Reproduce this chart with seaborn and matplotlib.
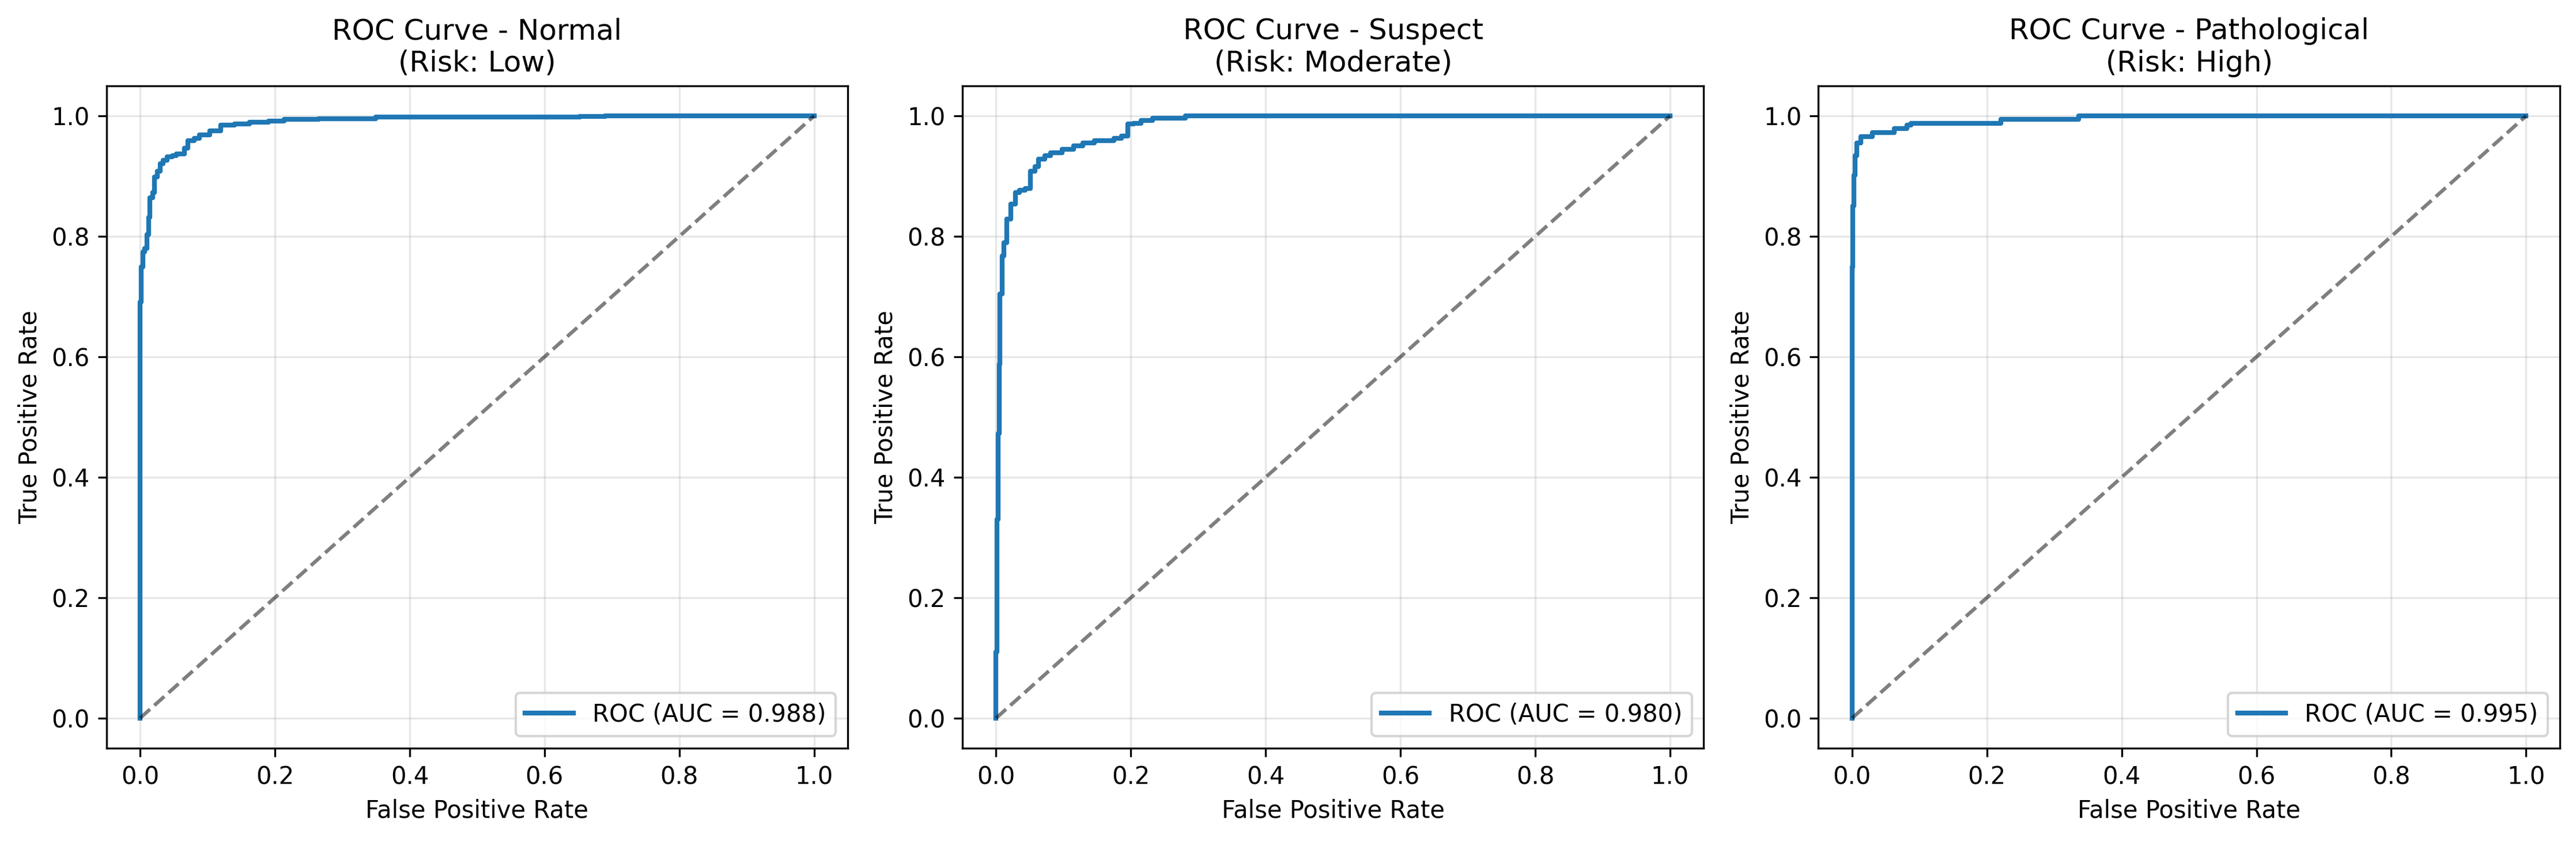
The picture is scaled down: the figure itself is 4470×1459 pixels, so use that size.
import numpy as np
import seaborn as sns
from matplotlib import pyplot as plt

# class names, risk levels and AUC values shown in the titles / legends
classes = ["Normal", "Suspect", "Pathological"]
risks = ["Low", "Moderate", "High"]
aucs = [0.988, 0.980, 0.995]

# ROC curve corners (fpr, tpr), drawn as steps
fpr_normal = [0, 0, 0.0014, 0.0043, 0.007, 0.010, 0.0128, 0.0142, 0.0185, 0.0214,
              0.0256, 0.030, 0.034, 0.040, 0.048, 0.054, 0.066, 0.071, 0.080, 0.088,
              0.103, 0.120, 0.140, 0.162, 0.191, 0.214, 0.265, 0.350, 0.652, 0.690, 1.0]
tpr_normal = [0, 0.691, 0.749, 0.774, 0.780, 0.803, 0.832, 0.864, 0.873, 0.899,
              0.908, 0.921, 0.926, 0.932, 0.934, 0.937, 0.947, 0.959, 0.963, 0.969,
              0.975, 0.985, 0.987, 0.990, 0.992, 0.9946, 0.9955, 0.998, 0.999, 1.0, 1.0]

fpr_suspect = [0, 0, 0.001, 0.003, 0.005, 0.006, 0.009, 0.012, 0.016, 0.022,
               0.029, 0.035, 0.043, 0.051, 0.058, 0.063, 0.072, 0.081, 0.098, 0.115,
               0.129, 0.146, 0.175, 0.186, 0.195, 0.204, 0.215, 0.232, 0.281, 1.0]
tpr_suspect = [0, 0.11, 0.33, 0.473, 0.588, 0.704, 0.768, 0.790, 0.829, 0.854,
               0.873, 0.877, 0.880, 0.908, 0.916, 0.928, 0.934, 0.939, 0.945, 0.950,
               0.955, 0.9595, 0.963, 0.967, 0.987, 0.988, 0.993, 0.996, 1.0, 1.0]

fpr_patho = [0, 0, 0.0014, 0.003, 0.0043, 0.007, 0.0128, 0.030, 0.0627, 0.081,
             0.087, 0.221, 0.336, 1.0]
tpr_patho = [0, 0.749, 0.851, 0.902, 0.934, 0.955, 0.966, 0.972, 0.979, 0.985,
             0.988, 0.9946, 1.0, 1.0]

fprs = [fpr_normal, fpr_suspect, fpr_patho]
tprs = [tpr_normal, tpr_suspect, tpr_patho]
diag = [0, 1]

W, H = 4470, 1459
fig, axes = plt.subplots(1, 3, figsize=(W / 300, H / 300), dpi=300)
plt.subplots_adjust(left=0.0413, right=0.9937, bottom=0.1103, top=0.8979, wspace=0.1546)

for ax, name, risk, auc, fpr, tpr in zip(axes, classes, risks, aucs, fprs, tprs):
    sns.lineplot(x=fpr, y=tpr, ax=ax, lw=2, color="#1f77b4", estimator=None,
                 sort=False, drawstyle="steps-post", label=f"ROC (AUC = {auc:.3f})")
    ax.plot(diag, diag, "k--", alpha=0.5, lw=1.5)
    ax.set_xlim(-0.05, 1.05)
    ax.set_ylim(-0.05, 1.05)
    ax.set_xlabel("False Positive Rate")
    ax.set_ylabel("True Positive Rate")
    ax.set_title(f"ROC Curve - {name}\n(Risk: {risk})", fontsize=12)
    ax.grid(True, alpha=0.3)
    ax.legend(loc="lower right")

fig.savefig("out.png", dpi=300)
